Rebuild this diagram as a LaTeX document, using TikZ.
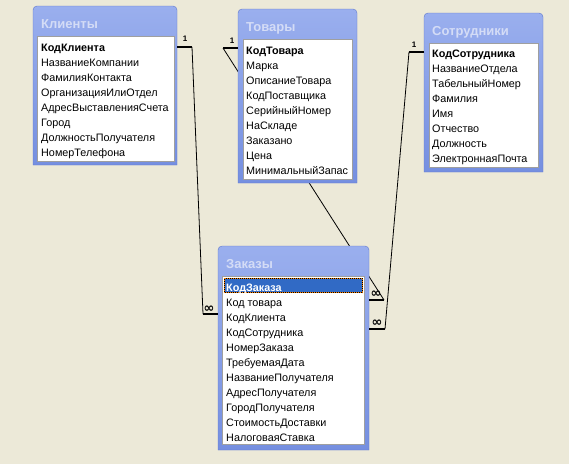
\documentclass[tikz,border=0pt]{standalone}
\usepackage{fontspec}
\setmainfont{Liberation Sans}
\newfontfamily\symfont{DejaVu Sans}
\definecolor{deskbg}{HTML}{ECE9D8}
\definecolor{frametop}{HTML}{9AAFEE}
\definecolor{framebot}{HTML}{758FE0}
\definecolor{frameedge}{HTML}{5F77CC}
\definecolor{titletext}{HTML}{D4DCF6}
\definecolor{selblue}{HTML}{316AC5}

\begin{document}
\begin{tikzpicture}[x=1pt,y=-1pt,
  winframe/.style={draw=frameedge,top color=frametop,bottom color=framebot},
  listbox/.style={draw=gray!75,fill=white},
  wintitle/.style={anchor=base west,inner sep=0pt,text=titletext,font=\fontsize{13}{15}\selectfont\bfseries},
  field/.style={anchor=base west,inner sep=0pt,font=\fontsize{10.8}{12}\selectfont},
  keyfield/.style={field,font=\fontsize{10.8}{12}\selectfont\bfseries},
  stub/.style={line width=2.6pt},
  link/.style={line width=0.8pt},
  one/.style={inner sep=0pt,font=\fontsize{8}{8}\selectfont\bfseries},
  many/.style={inner sep=0pt,font=\symfont\fontsize{13}{13}\selectfont\bfseries}]

  \fill[deskbg] (0,0) rectangle (569,464);

  % relationship lines, behind the tables
  \coordinate (kl1) at (177,47);  \coordinate (kl2) at (192,47);
  \coordinate (tv1) at (238,48);  \coordinate (tv2) at (223,48);
  \coordinate (st1) at (424,52);  \coordinate (st2) at (409,52);
  \coordinate (zk1) at (218,314); \coordinate (zk2) at (203,314);
  \coordinate (zt1) at (369,300); \coordinate (zt2) at (384,300);
  \coordinate (zs1) at (369,329); \coordinate (zs2) at (385,329);
  \draw[link] (kl2) -- (zk2);
  \draw[link] (tv2) -- (zt2);
  \draw[link] (st2) -- (zs2);

  % Клиенты
  \path[winframe] (33,165) {[rounded corners=4pt] -- (33,6) -- (177,6)} -- (177,165) -- cycle;
  \draw[listbox] (37,36) rectangle (174,161);
  \node[wintitle] (klt) at (41,28) {Клиенты};
  \node[keyfield] (klk) at (41,51) {КодКлиента};
  \foreach \f [count=\i] in {НазваниеКомпании,ФамилияКонтакта,ОрганизацияИлиОтдел,АдресВыставленияСчета,Город,ДолжностьПолучателя,НомерТелефона}
    \node[field] (kl-\i) at (41,{51+15*\i}) {\f};

  % Товары
  \path[winframe] (238,183) {[rounded corners=4pt] -- (238,9) -- (357,9)} -- (357,183) -- cycle;
  \draw[listbox] (243,39) rectangle (352,179);
  \node[wintitle] (tvt) at (246,31) {Товары};
  \node[keyfield] (tvk) at (246,54) {КодТовара};
  \foreach \f [count=\i] in {Марка,ОписаниеТовара,КодПоставщика,СерийныйНомер,НаСкладе,Заказано,Цена,МинимальныйЗапас}
    \node[field] (tv-\i) at (246,{54+15*\i}) {\f};

  % Сотрудники
  \path[winframe] (424,172) {[rounded corners=4pt] -- (424,13) -- (543,13)} -- (543,172) -- cycle;
  \draw[listbox] (429,43) rectangle (538,167);
  \node[wintitle] (stt) at (432,35) {Сотрудники};
  \node[keyfield] (stk) at (432,57) {КодСотрудника};
  \foreach \f [count=\i] in {НазваниеОтдела,ТабельныйНомер,Фамилия,Имя,Отчество,Должность,ЭлектроннаяПочта}
    \node[field] (st-\i) at (432,{57+15*\i}) {\f};

  % Заказы
  \path[winframe] (218,450) {[rounded corners=4pt] -- (218,246) -- (369,246)} -- (369,450) -- cycle;
  \draw[listbox] (222,276) rectangle (364,444);
  \node[wintitle] (zkt) at (226,268) {Заказы};
  \fill[selblue] (224,278) rectangle (363,293);
  \draw[black,line width=0.6pt] (224.3,278.3) rectangle (362.7,292.7);
  \draw[orange,line width=0.6pt,dash pattern=on 1pt off 1pt] (224.3,278.3) rectangle (362.7,292.7);
  \node[keyfield,text=white] (zkk) at (226,291) {КодЗаказа};
  \foreach \f [count=\i] in {Код товара,КодКлиента,КодСотрудника,НомерЗаказа,ТребуемаяДата,НазваниеПолучателя,АдресПолучателя,ГородПолучателя,СтоимостьДоставки,НалоговаяСтавка}
    \node[field] (zk-\i) at (226,{291+15*\i}) {\f};

  % ends of the links
  \draw[stub] (kl1) -- (kl2);
  \draw[stub] (tv1) -- (tv2);
  \draw[stub] (st1) -- (st2);
  \draw[stub] (zk2) -- (zk1);
  \draw[stub] (zt1) -- (zt2);
  \draw[stub] (zs1) -- (zs2);
  \node[one] (o1) at (185,39) {1};
  \node[one] (o2) at (232,41) {1};
  \node[one] (o3) at (414,45) {1};
  \node[many] (m1) at (209,309) {∞};
  \node[many] (m2) at (376,294) {∞};
  \node[many] (m3) at (377,323) {∞};
\end{tikzpicture}
\end{document}
